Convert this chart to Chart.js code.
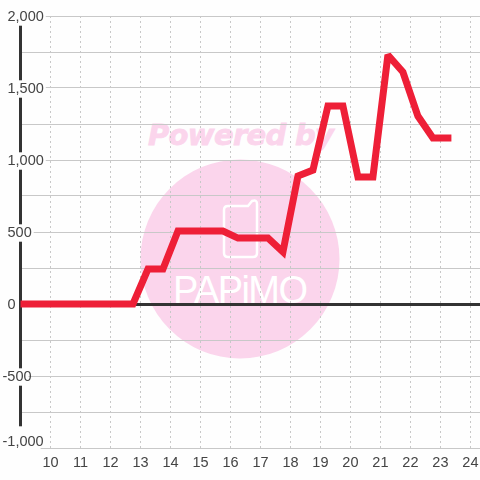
<!DOCTYPE html>
<html>
<head>
<meta charset="utf-8">
<script src="https://cdn.jsdelivr.net/npm/chart.js@4"></script>
<style>
html, body { margin: 0; padding: 0; background: #fefefe; }
#wrap { position: relative; width: 480px; height: 480px; overflow: hidden; }
#wrap svg, #wrap canvas { position: absolute; left: 0; top: 0; }
</style>
</head>
<body>
<div id="wrap">
    <!-- watermark sits behind the transparent canvas -->
    <svg width="480" height="480" viewBox="0 0 480 480">
        <circle cx="240" cy="259" r="99.5" fill="#fbd5ec"></circle>
        <text x="241" y="145" text-anchor="middle" font-family="DejaVu Sans" font-weight="bold" font-style="italic" font-size="29" fill="#fbd5ec" stroke="#fbd5ec" stroke-width="0.8" textLength="186">Powered by</text>
        <path d="M228 206 h20 l4 -5 q5 -2 5 3 v49 q0 4 -4 4 h-25 q-4 0 -4 -4 v-43 q0 -4 4 -4 z" fill="none" stroke="#fff" stroke-width="2.5"></path>
        <text x="173" y="303" font-family="Liberation Sans" font-size="38" fill="#fff" textLength="135" lengthAdjust="spacing">PAPiMO</text>
    </svg>
    <canvas id="dataChart" width="480" height="480"></canvas>
</div>
<script>
// half hour slots, first one falls just left of the axis
let hours = [8.75, 9.25, 9.75, 10.25, 10.75, 11.25, 11.75, 12.25, 12.75, 13.25, 13.75, 14.25, 14.75, 15.25, 15.75,
    16.25, 16.75, 17.25, 17.75, 18.25, 18.75, 19.25, 19.75, 20.25, 20.75, 21.25, 21.75, 22.25, 22.75, 23.25];
let values = [0, 0, 0, 0, 0, 0, 0, 0, 0, 243, 243, 507, 507, 507, 507,
    458, 458, 458, 361, 889, 930, 1375, 1375, 882, 882, 1729, 1611, 1305, 1153, 1153];
let hourTicks = [10, 11, 12, 13, 14, 15, 16, 17, 18, 19, 20, 21, 22, 23, 24];
let valueLabels = [-1000, -500, 0, 500, 1000, 1500, 2000];

// The labels hang off a fixed left edge, so nudge the negative ones and the bottom one
const nudgeLabels = {
    id: 'nudgeLabels',
    beforeDraw(chart) {
        let scale = chart.scales.y;
        scale.getLabelItems(chart.chartArea).forEach(item => {
            let text = String(item.label);
            let o = item.options;
            o.translation[1] += 1;
            if (text.startsWith('-')) {
                o.translation[0] -= 5;
                if (o.backdrop) o.backdrop.left -= 5;
            }
            if (text === '-1,000') {
                o.translation[1] -= 7;
                // backdrop still has to hide the axis end under the label
                if (o.backdrop) {
                    o.backdrop.top -= 7;
                    o.backdrop.height += 8;
                }
            }
        });
    },
    // Sharp corners stay, the tall peak gets cut flat
    beforeDatasetsDraw(chart) {
        chart.ctx.miterLimit = 2.2;
    }
};

let chart = new Chart(document.getElementById('dataChart').getContext('2d'), {
    type: 'line',
    plugins: [nudgeLabels],
    data: {
        datasets: [
            {
                data: hours.map((h, i) => ({x: h, y: values[i]})),
                borderColor: '#ee1f37',
                borderWidth: 7,
                borderCapStyle: 'square',
                borderJoinStyle: 'miter',
                pointRadius: 0,
                tension: 0
            }
        ]
    },
    options: {
        responsive: false,
        animation: false,
        layout: {autoPadding: false, padding: {top: 16, right: 0, left: 0, bottom: 0}},
        font: {family: 'Liberation Sans'},
        plugins: {legend: {display: false}, title: {display: false}, tooltip: {enabled: false}},
        scales: {
            x: {
                type: 'linear',
                min: 9,
                max: 24.32,
                afterFit: s => { s.height = 32; s.paddingRight = 0; s.paddingLeft = 0; },
                afterBuildTicks: s => { s.ticks = [{value: 9}].concat(hourTicks.map(h => ({value: h}))); },
                border: {display: false, dash: [2, 3]},
                grid: {color: '#c8c8c8', lineWidth: 1, drawTicks: false},
                ticks: {
                    autoSkip: false,
                    maxRotation: 0,
                    padding: 6,
                    color: '#444',
                    font: {family: 'Liberation Sans', size: 14.5},
                    callback: v => hourTicks.includes(v) ? String(v) : ''
                }
            },
            y: {
                min: -1000,
                max: 2000,
                afterFit: s => { s.width = 20.5; },
                border: {display: true, color: '#333', width: 3},
                grid: {
                    drawTicks: false,
                    color: c => c.tick.value === 0 ? '#333' : '#c8c8c8',
                    lineWidth: c => c.tick.value === 0 ? 3 : 1
                },
                ticks: {
                    stepSize: 250,
                    autoSkip: false,
                    mirror: true,
                    padding: -13,
                    color: '#444',
                    font: {family: 'Liberation Sans', size: 14.5},
                    showLabelBackdrop: c => valueLabels.includes(c.tick.value),
                    backdropColor: '#fefefe',
                    backdropPadding: {top: 0, bottom: 0, left: 0, right: 2},
                    callback: v => valueLabels.includes(v) ? v.toLocaleString('en-US') : ''
                }
            }
        }
    }
});
</script>
</body>
</html>
